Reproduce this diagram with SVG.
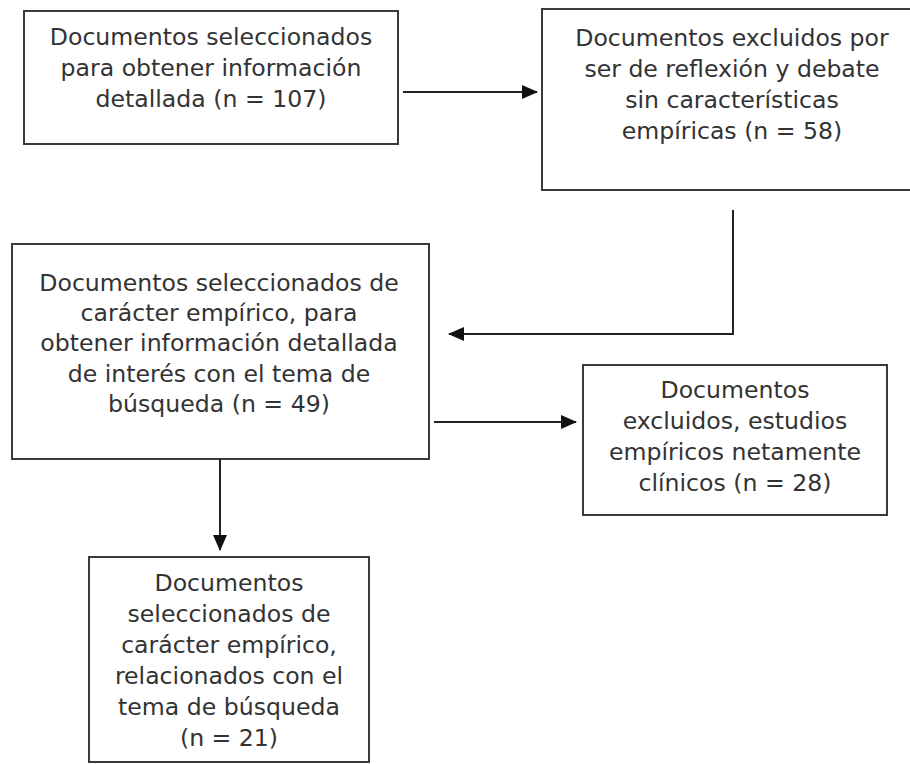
<svg xmlns="http://www.w3.org/2000/svg" width="910" height="764" viewBox="0 0 910 764">
<defs>
<style>
.box{fill:#fff;stroke:#3a3a3a;stroke-width:2}
.t{font-family:"DejaVu Sans","Verdana",sans-serif;font-size:23.6px;fill:#333;text-anchor:middle}
.c{fill:none;stroke:#222;stroke-width:2}
</style>
<marker id="ah" markerWidth="16" markerHeight="14" refX="15" refY="7" orient="auto" markerUnits="userSpaceOnUse">
<path d="M0,0 L16,7 L0,14 Z" fill="#111"/>
</marker>
</defs>
<rect width="910" height="764" fill="#fff"/>
<g id="n1">
<rect class="box" x="24" y="11" width="374" height="133"/>
<text class="t" x="211"><tspan x="211" y="45">Documentos seleccionados</tspan><tspan x="211" y="76">para obtener información</tspan><tspan x="211" y="107">detallada (n = 107)</tspan></text>
</g>
<g id="n2">
<rect class="box" x="542" y="9" width="380" height="181"/>
<text class="t"><tspan x="732" y="46">Documentos excluidos por</tspan><tspan x="732" y="77">ser de reflexión y debate</tspan><tspan x="732" y="108">sin características</tspan><tspan x="732" y="139">empíricas (n = 58)</tspan></text>
</g>
<g id="n3">
<rect class="box" x="12" y="244" width="417" height="215"/>
<text class="t"><tspan x="219" y="291">Documentos seleccionados de</tspan><tspan x="219" y="321">carácter empírico, para</tspan><tspan x="219" y="351">obtener información detallada</tspan><tspan x="219" y="382">de interés con el tema de</tspan><tspan x="219" y="412">búsqueda (n = 49)</tspan></text>
</g>
<g id="n4">
<rect class="box" x="583" y="365" width="304" height="150"/>
<text class="t"><tspan x="735" y="398">Documentos</tspan><tspan x="735" y="429">excluidos, estudios</tspan><tspan x="735" y="460">empíricos netamente</tspan><tspan x="735" y="491">clínicos (n = 28)</tspan></text>
</g>
<g id="n5">
<rect class="box" x="89" y="557" width="280" height="205"/>
<text class="t"><tspan x="229" y="591">Documentos</tspan><tspan x="229" y="622">seleccionados de</tspan><tspan x="229" y="653">carácter empírico,</tspan><tspan x="229" y="684">relacionados con el</tspan><tspan x="229" y="715">tema de búsqueda</tspan><tspan x="229" y="746">(n = 21)</tspan></text>
</g>
<g id="connectors">
<path class="c" d="M403,92 H537" marker-end="url(#ah)"/>
<path class="c" d="M733,210 V334 H449" marker-end="url(#ah)"/>
<path class="c" d="M434,422 H576" marker-end="url(#ah)"/>
<path class="c" d="M220,459 V550" marker-end="url(#ah)"/>
</g>
</svg>
